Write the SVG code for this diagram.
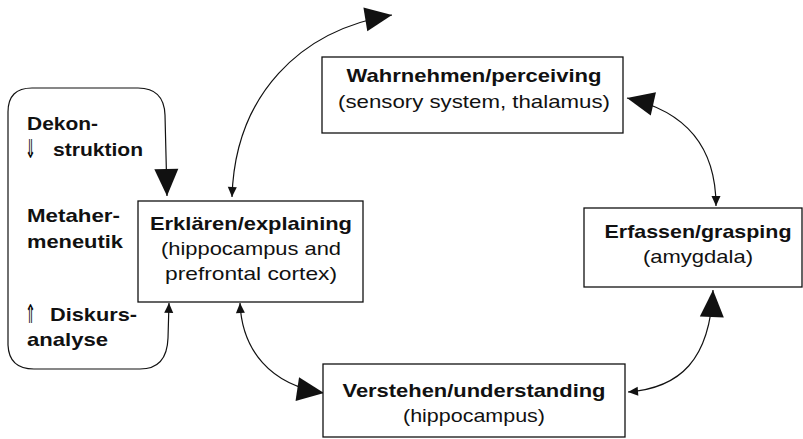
<svg xmlns="http://www.w3.org/2000/svg" width="803" height="439" viewBox="0 0 803 439">
<style>
.box{fill:#fff;stroke:#111;stroke-width:1.3}
.t{font-family:"Liberation Sans",Arial,sans-serif;font-size:18.5px;fill:#111;text-anchor:middle}
.b{font-weight:bold}
.l{font-family:"Liberation Sans",Arial,sans-serif;font-size:18.5px;font-weight:bold;fill:#111}
.ar{font-family:"DejaVu Sans",sans-serif;font-weight:normal;font-size:26px;fill:#000}
.c{fill:none;stroke:#111;stroke-width:1.2}
</style>
<defs>
<marker id="big" markerUnits="userSpaceOnUse" markerWidth="30" markerHeight="28" viewBox="-28 -14 30 28" refX="0" refY="0" orient="auto-start-reverse">
<path d="M0,0 L-27,-12 L-27,12 Z" fill="#111"/>
</marker>
<marker id="small" markerUnits="userSpaceOnUse" markerWidth="12" markerHeight="10" viewBox="-11 -5 12 10" refX="0" refY="0" orient="auto-start-reverse">
<path d="M0,0 L-10,-4.5 L-10,4.5 Z" fill="#111"/>
</marker>
</defs>
<rect width="803" height="439" fill="#fff"/>
<g id="connectors">
<path class="c" d="M167,196 L165,115 Q164,88 138,88 L32,88 Q8,88 8,112 L8,345 Q9,369 34,369 L140,369 Q167,369 168,338 L169,303" marker-start="url(#big)" marker-end="url(#small)"/>
<path class="c" d="M232,197 C235,95 300,30 392,15" marker-start="url(#small)" marker-end="url(#big)"/>
<path class="c" d="M627,98 C690,112 716,150 716,206" marker-start="url(#big)" marker-end="url(#small)"/>
<path class="c" d="M713,290 C710,360 680,388 628,392" marker-start="url(#big)" marker-end="url(#small)"/>
<path class="c" d="M240,303 C242,350 270,385 324,393" marker-start="url(#small)" marker-end="url(#big)"/>
</g>
<g id="wahrnehmen">
<rect class="box" x="322" y="57" width="301" height="76"/>
<text class="t b" x="474" y="82" textLength="255" lengthAdjust="spacingAndGlyphs">Wahrnehmen/perceiving</text>
<text class="t" x="474" y="108" textLength="272" lengthAdjust="spacingAndGlyphs">(sensory system, thalamus)</text>
</g>
<g id="erklaeren">
<rect class="box" x="138" y="201" width="225" height="101"/>
<text class="t b" x="251" y="230" textLength="202" lengthAdjust="spacingAndGlyphs">Erklären/explaining</text>
<text class="t" x="251" y="255" textLength="180" lengthAdjust="spacingAndGlyphs">(hippocampus and</text>
<text class="t" x="251" y="280" textLength="172" lengthAdjust="spacingAndGlyphs">prefrontal cortex)</text>
</g>
<g id="erfassen">
<rect class="box" x="584" y="208" width="218" height="79"/>
<text class="t b" x="698" y="238" textLength="187" lengthAdjust="spacingAndGlyphs">Erfassen/grasping</text>
<text class="t" x="698" y="263" textLength="110" lengthAdjust="spacingAndGlyphs">(amygdala)</text>
</g>
<g id="verstehen">
<rect class="box" x="323" y="364" width="302" height="73"/>
<text class="t b" x="474" y="397" textLength="263" lengthAdjust="spacingAndGlyphs">Verstehen/understanding</text>
<text class="t" x="474" y="422" textLength="142" lengthAdjust="spacingAndGlyphs">(hippocampus)</text>
</g>
<g id="methods">
<text class="l" x="27" y="130" textLength="71" lengthAdjust="spacingAndGlyphs">Dekon-</text>
<text class="ar" x="25" y="158" textLength="11" lengthAdjust="spacingAndGlyphs">⇓</text>
<text class="l" x="53" y="156" textLength="90" lengthAdjust="spacingAndGlyphs">struktion</text>
<text class="l" x="27" y="222" textLength="93" lengthAdjust="spacingAndGlyphs">Metaher-</text>
<text class="l" x="27" y="248" textLength="96" lengthAdjust="spacingAndGlyphs">meneutik</text>
<text class="ar" x="25" y="323" textLength="11" lengthAdjust="spacingAndGlyphs">⇑</text>
<text class="l" x="50" y="321" textLength="87" lengthAdjust="spacingAndGlyphs">Diskurs-</text>
<text class="l" x="27" y="346" textLength="81" lengthAdjust="spacingAndGlyphs">analyse</text>
</g>
</svg>
